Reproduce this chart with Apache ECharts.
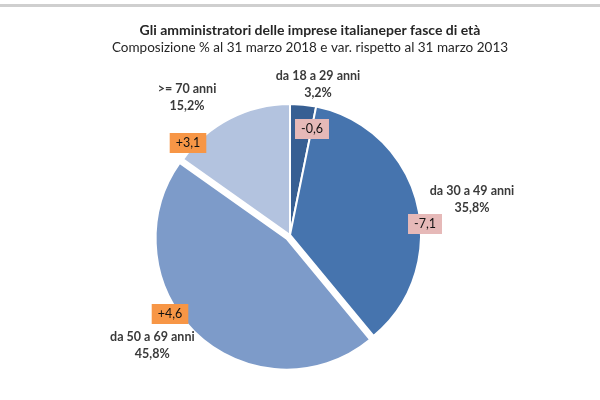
<!DOCTYPE html>
<html><head><meta charset="utf-8">
<script src="https://cdn.jsdelivr.net/npm/echarts@6/dist/echarts.min.js"></script>
<style>html,body{margin:0;padding:0;background:#fff}#c{width:600px;height:400px}</style>
</head><body><div id="c"></div>
<script>
const categories = ['da 18 a 29 anni', 'da 30 a 49 anni', 'da 50 a 69 anni', '>= 70 anni'];
const shares = [3.2, 35.8, 45.8, 15.2];
const changes = ['-0,6', '-7,1', '+4,6', '+3,1'];
const colors = ['#375F93', '#4674AE', '#7D9BC9', '#B3C3DF'];
const boxColors = ['#E6B9B8', '#E6B9B8', '#F79646', '#F79646'];
// label anchor positions (layout, not data)
const namePos = [[318, 84], [472, 199], [141, 355], [187, 97]];
const boxPos = [[312, 129], [425, 224], [170, 314], [188, 143]];

const FONT = 'Lato';
const fmt = v => v.toFixed(1).replace('.', ',');

const pieData = categories.map((c, i) => ({
  name: c, value: shares[i], selected: i === 2,
  itemStyle: { color: colors[i] }
}));

const chart = echarts.init(document.getElementById('c'), null, { renderer: 'canvas' });
chart.setOption({
  animation: false,
  backgroundColor: '#fff',
  title: {
    text: 'Gli amministratori delle imprese italianeper fasce di età',
    subtext: 'Composizione % al 31 marzo 2018 e var. rispetto al 31 marzo 2013',
    left: 305, top: 18, textAlign: 'center', itemGap: 4,
    textStyle: { fontFamily: FONT, fontSize: 14, fontWeight: 'bold', color: '#262626' },
    subtextStyle: { fontFamily: FONT, fontSize: 13.5, color: '#262626' }
  },
  graphic: [{ type: 'rect', shape: { x: 0, y: 4, width: 600, height: 3 }, style: { fill: '#cfcfcf' }, silent: true }],
  series: [{
    type: 'pie',
    center: [290, 235], radius: 131,
    startAngle: 90, clockwise: true,
    selectedMode: 'multiple', selectedOffset: 5,
    itemStyle: { borderColor: '#fff', borderWidth: 2 },
    emphasis: { disabled: true },
    labelLine: { show: false },
    label: {
      show: true, position: 'outside',
      fontFamily: FONT, fontSize: 12.5, fontWeight: 'bold', color: '#3a3a3a',
      lineHeight: 17, align: 'center',
      formatter: p => p.name + '\n' + fmt(p.value) + '%'
    },
    labelLayout: p => ({ x: namePos[p.dataIndex][0], y: namePos[p.dataIndex][1], align: 'center', verticalAlign: 'middle' }),
    data: pieData
  }, {
    type: 'pie',
    center: [290, 235], radius: 131,
    startAngle: 90, clockwise: true,
    silent: true,
    itemStyle: { color: 'transparent', borderWidth: 0 },
    labelLine: { show: false },
    label: {
      show: true, position: 'outside',
      fontFamily: FONT, fontSize: 12.5, color: '#111',
      padding: [4, 6, 3, 6],
      formatter: p => changes[p.dataIndex]
    },
    labelLayout: p => ({ x: boxPos[p.dataIndex][0], y: boxPos[p.dataIndex][1], align: 'center', verticalAlign: 'middle' }),
    data: categories.map((c, i) => ({
      name: c, value: shares[i],
      label: { backgroundColor: boxColors[i] }
    }))
  }]
});
</script></body></html>
